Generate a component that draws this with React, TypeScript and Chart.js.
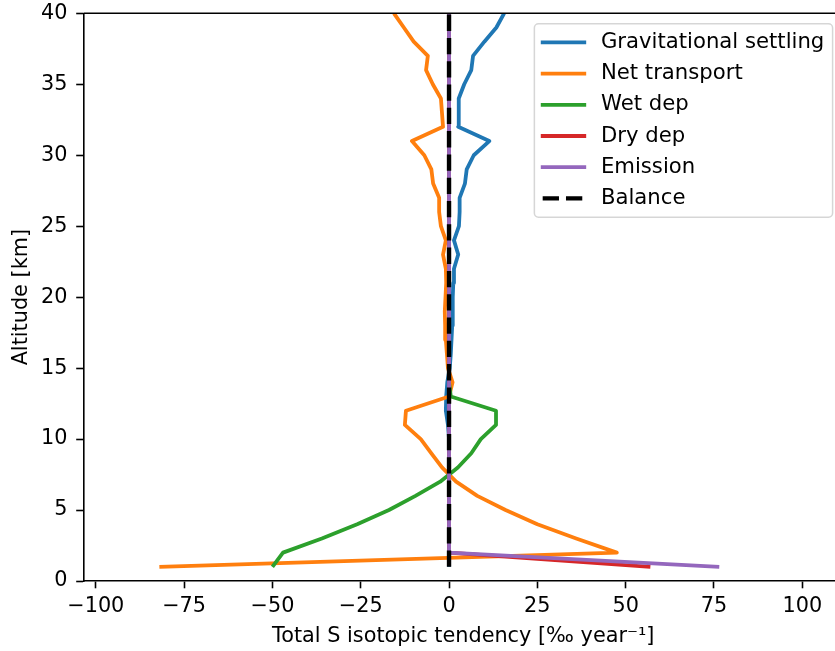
import React, { useEffect, useRef } from 'react';
import { Chart, registerables } from 'chart.js';

Chart.register(...registerables);

const altitude = [1, 2, 3, 4, 5, 6, 7, 8, 9, 10, 11, 12, 13, 14, 15, 16, 17, 18, 19, 20, 21, 22, 23, 24, 25, 26, 27, 28, 29, 30, 31, 32, 33, 34, 35, 36, 37, 38, 39, 40];

const gravSettling = [0, 0, 0, 0, 0, 0, 0, 0, 0, 0, -0.3, -0.9, -0.8, -0.5, 0.2, 0.5, 0.7, 0.9, 1.0, 1.1, 1.2, 1.4, 2.6, 1.4, 2.8, 3.0, 3.0, 4.5, 5.0, 7.0, 11.4, 2.6, 2.7, 2.8, 4.3, 6.3, 6.8, 10.0, 13.4, 15.6];
const netTransport = [-82, 47.5, 36, 25, 16, 8, 2, -2, -5, -8, -12.5, -12.2, 0, 1.0, -0.3, -0.6, -0.9, -1.1, -1.2, -1.0, -0.8, -0.9, -1.7, -0.9, -2.3, -2.8, -2.8, -4.5, -5.0, -7.0, -10.5, -1.7, -2.0, -2.3, -4.6, -6.5, -6.0, -10.0, -12.8, -15.6];
const wetDep = [-50, -47, -36, -26, -17, -9.5, -2.5, 2.5, 6.3, 9, 13.3, 13.3, 0.5, 0, 0, 0, 0, 0, 0, 0, 0, 0, 0, 0, 0, 0, 0, 0, 0, 0, 0, 0, 0, 0, 0, 0, 0, 0, 0, 0];
const dryDep = [57, 0, 0, 0, 0, 0, 0, 0, 0, 0, 0, 0, 0, 0, 0, 0, 0, 0, 0, 0, 0, 0, 0, 0, 0, 0, 0, 0, 0, 0, 0, 0, 0, 0, 0, 0, 0, 0, 0, 0];
const emission = [76.5, 0, 0, 0, 0, 0, 0, 0, 0, 0, 0, 0, 0, 0, 0, 0, 0, 0, 0, 0, 0, 0, 0, 0, 0, 0, 0, 0, 0, 0, 0, 0, 0, 0, 0, 0, 0, 0, 0, 0];
const balance = [0, 0, 0, 0, 0, 0, 0, 0, 0, 0, 0, 0, 0, 0, 0, 0, 0, 0, 0, 0, 0, 0, 0, 0, 0, 0, 0, 0, 0, 0, 0, 0, 0, 0, 0, 0, 0, 0, 0, 0];

const seriesLabels = ['Gravitational settling', 'Net transport', 'Wet dep', 'Dry dep', 'Emission', 'Balance'];
const seriesColors = ['#1f77b4', '#ff7f0e', '#2ca02c', '#d62728', '#9467bd', '#000000'];
const xTicks = [-100, -75, -50, -25, 0, 25, 50, 75, 100];
const yTicks = [0, 5, 10, 15, 20, 25, 30, 35, 40];
const xTitle = 'Total S isotopic tendency [\u2030 year\u207B\u00B9]';
const yTitle = 'Altitude [km]';

const FONT = 'DejaVu Sans';
const FS = 20.8;
const LFS = 21.2;
const LW = 3.8;
const BLW = 4.4;
const DASH = [16.3, 7];

const fmt = (v: number) => (v < 0 ? '\u2212' + Math.abs(v) : String(v));

const spinesAndLegend = {
  id: 'spinesAndLegend',
  afterDatasetsDraw(chart: any) {
    const { ctx, chartArea: ca } = chart;
    ctx.save();
    ctx.strokeStyle = '#000';
    ctx.lineWidth = 1.6;
    ctx.beginPath();
    ctx.moveTo(ca.left, ca.top);
    ctx.lineTo(ca.right, ca.top);
    ctx.lineTo(ca.right, ca.bottom);
    ctx.stroke();

    // legend
    ctx.font = `${LFS}px "${FONT}"`;
    const pad = 0.4 * FS;
    const hl = 2 * FS;
    const htp = 0.8 * FS;
    const ls = 0.5 * FS;
    const rowH = FS;
    let maxW = 0;
    seriesLabels.forEach((l) => {
      maxW = Math.max(maxW, ctx.measureText(l).width);
    });
    const w = pad + hl + htp + maxW + pad;
    const n = seriesLabels.length;
    const h = 2 * pad + n * rowH + (n - 1) * ls;
    const right = ca.right - 0.5 * FS;
    const top = ca.top + 0.5 * FS;
    const left = right - w;
    const r = 0.2 * FS;
    ctx.beginPath();
    ctx.roundRect(left, top, w, h, r);
    ctx.fillStyle = 'rgba(255,255,255,0.8)';
    ctx.fill();
    ctx.strokeStyle = 'rgba(204,204,204,0.8)';
    ctx.lineWidth = 1.5;
    ctx.stroke();

    seriesLabels.forEach((l, i) => {
      const cy = top + pad + i * (rowH + ls) + rowH / 2;
      ctx.beginPath();
      ctx.strokeStyle = seriesColors[i];
      if (i === n - 1) {
        ctx.lineWidth = BLW;
        ctx.setLineDash(DASH);
        ctx.lineCap = 'butt';
      } else {
        ctx.lineWidth = LW;
        ctx.setLineDash([]);
        ctx.lineCap = 'square';
      }
      ctx.moveTo(left + pad, cy);
      ctx.lineTo(left + pad + hl, cy);
      ctx.stroke();
      ctx.setLineDash([]);
      ctx.fillStyle = '#000';
      ctx.textBaseline = 'middle';
      ctx.textAlign = 'left';
      ctx.fillText(l, left + pad + hl + htp, cy);
    });
    ctx.restore();
  },
};

export default function App() {
  const ref = useRef<HTMLCanvasElement | null>(null);

  useEffect(() => {
    if (!ref.current) return;
    Chart.defaults.font.family = FONT;
    const seriesValues = [gravSettling, netTransport, wetDep, dryDep, emission, balance];
    const datasets = seriesValues.map((vals, i) => ({
      label: seriesLabels[i],
      data: altitude.map((a, j) => ({ x: vals[j], y: a })),
      borderColor: seriesColors[i],
      backgroundColor: seriesColors[i],
      borderWidth: i === 5 ? BLW : LW,
      borderDash: i === 5 ? DASH : [],
      borderCapStyle: 'butt',
      borderJoinStyle: 'round',
      pointRadius: 0,
      pointHoverRadius: 0,
      tension: 0,
      fill: false,
      order: 6 - i,
    }));

    const chart = new Chart(ref.current, {
      type: 'line',
      data: { datasets: datasets as any },
      options: {
        animation: false,
        responsive: false,
        devicePixelRatio: 1,
        events: [],
        layout: { padding: { top: 13.3, right: 2, left: 0, bottom: 0 } },
        plugins: {
          legend: { display: false },
          tooltip: { enabled: false },
        },
        scales: {
          x: {
            type: 'linear',
            min: -103.48,
            max: 111.53,
            afterFit: (s: any) => {
              s.height = 70;
              s.paddingLeft = 0;
              s.paddingRight = 0;
            },
            afterBuildTicks: (s: any) => {
              s.ticks = xTicks.map((v) => ({ value: v }));
            },
            ticks: {
              callback: (v: any) => fmt(Number(v)),
              color: '#000',
              font: { size: FS, family: FONT },
              padding: 6,
              maxRotation: 0,
              autoSkip: false,
            },
            grid: {
              display: true,
              drawOnChartArea: false,
              drawTicks: true,
              tickLength: 7.3,
              tickColor: '#000',
              tickWidth: 1.6,
            },
            border: { display: true, color: '#000', width: 1.6 },
            title: {
              display: true,
              text: xTitle,
              color: '#000',
              font: { size: FS, family: FONT },
              padding: { top: 0, bottom: 1.5 },
            },
          },
          y: {
            type: 'linear',
            min: 0,
            max: 40,
            afterFit: (s: any) => {
              s.width = 83.5;
              s.paddingTop = 0;
              s.paddingBottom = 0;
            },
            afterBuildTicks: (s: any) => {
              s.ticks = yTicks.map((v) => ({ value: v }));
            },
            ticks: {
              callback: (v: any) => fmt(Number(v)),
              color: '#000',
              font: { size: FS, family: FONT },
              padding: 8.7,
              autoSkip: false,
            },
            grid: {
              display: true,
              drawOnChartArea: false,
              drawTicks: true,
              tickLength: 7.3,
              tickColor: '#000',
              tickWidth: 1.6,
            },
            border: { display: true, color: '#000', width: 1.6 },
            title: {
              display: true,
              text: yTitle,
              color: '#000',
              font: { size: FS, family: FONT },
              padding: { top: 9.5, bottom: 0 },
            },
          },
        },
      },
      plugins: [spinesAndLegend],
    });
    return () => chart.destroy();
  }, []);

  return (
    <div
      style={{
        position: 'fixed',
        left: 0,
        top: 0,
        width: 835,
        height: 651,
        overflow: 'hidden',
        background: '#fff',
      }}
    >
      <canvas ref={ref} width={845} height={651} style={{ display: 'block', width: 845, height: 651 }} />
    </div>
  );
}
